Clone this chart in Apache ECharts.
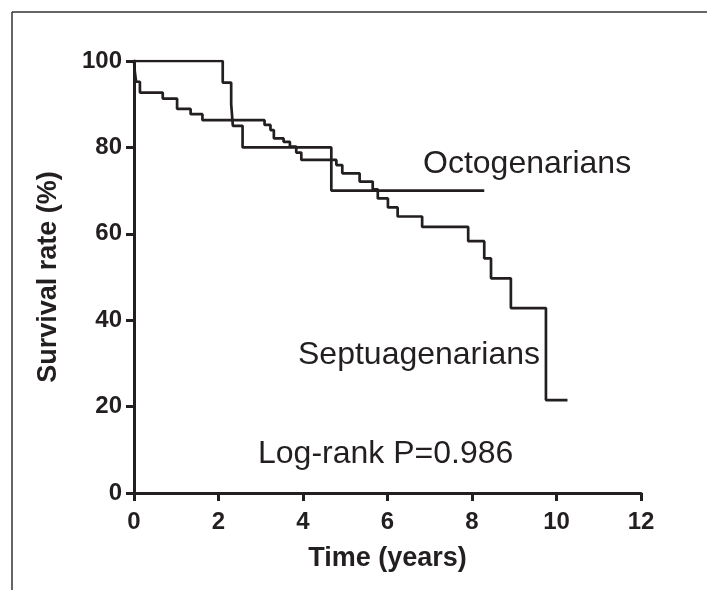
<!DOCTYPE html>
<html>
<head>
<meta charset="utf-8">
<script src="https://cdn.jsdelivr.net/npm/echarts@6/dist/echarts.min.js"></script>
<style>
  html, body { margin: 0; padding: 0; background: #fff; }
  #chart { width: 707px; height: 590px; }
</style>
</head>
<body>
<div id="chart"></div>
<script>
// Kaplan-Meier curves (time in years, survival in %)
const octoTime = [0, 2.10, 2.30, 2.34, 2.57, 4.67, 8.29]
const octoSurv = [100, 95, 90, 85, 80, 70, 70]

const septTime = [0, 0.02, 0.05, 0.14, 0.68, 1.02, 1.34, 1.62, 3.09, 3.23, 3.31, 3.54, 3.69, 3.84, 3.96,
  4.79, 4.93, 5.34, 5.65, 5.77, 6.01, 6.24, 6.82, 7.91, 8.29, 8.45, 8.92, 9.75, 10.26]
const septSurv = [100, 97.5, 95.2, 92.7, 91.3, 88.9, 87.7, 86.3, 85.2, 84.0, 82.1, 81.3, 80.2, 78.8, 77.1,
  75.9, 74.0, 72.1, 70.3, 68.2, 66.1, 64.0, 61.6, 58.3, 54.3, 49.7, 42.8, 21.5, 21.5]

const xTicks = [0, 2, 4, 6, 8, 10, 12]
const yTicks = [0, 20, 40, 60, 80, 100]

const ink = '#231f20'
const chart = echarts.init(document.getElementById('chart'))

const toPairs = (xs, ys) => xs.map((x, i) => [x, ys[i]])

const option = {
  backgroundColor: '#fff',
  animation: false,
  textStyle: { fontFamily: '"Liberation Sans", Arial, sans-serif' },
  grid: { left: 134, right: 66, top: 61, bottom: 97 },
  xAxis: {
    type: 'value',
    min: xTicks[0],
    max: xTicks[xTicks.length - 1],
    interval: 2,
    name: 'Time (years)',
    nameLocation: 'middle',
    nameGap: 52,
    nameTextStyle: { fontSize: 27, fontWeight: 'bold', color: ink },
    axisLine: { show: true, lineStyle: { color: ink, width: 3 } },
    axisTick: { show: true, length: 8, lineStyle: { color: ink, width: 3 } },
    axisLabel: { fontSize: 24, fontWeight: 'bold', color: ink, margin: 17 },
    splitLine: { show: false }
  },
  yAxis: {
    type: 'value',
    min: yTicks[0],
    max: yTicks[yTicks.length - 1],
    interval: 20,
    name: 'Survival rate (%)',
    nameLocation: 'middle',
    nameGap: 72,
    nameTextStyle: { fontSize: 27, fontWeight: 'bold', color: ink },
    axisLine: { show: true, lineStyle: { color: ink, width: 3 } },
    axisTick: { show: true, length: 8, lineStyle: { color: ink, width: 3 } },
    axisLabel: { fontSize: 24, fontWeight: 'bold', color: ink, margin: 12 },
    splitLine: { show: false }
  },
  series: [
    {
      name: 'Octogenarians',
      type: 'line',
      step: 'end',
      showSymbol: false,
      lineStyle: { color: ink, width: 2.7 },
      data: toPairs(octoTime, octoSurv)
    },
    {
      name: 'Septuagenarians',
      type: 'line',
      step: 'end',
      showSymbol: false,
      lineStyle: { color: ink, width: 2.7 },
      data: toPairs(septTime, septSurv)
    }
  ],
  graphic: [
    // frame round the figure (only top and left visible)
    { type: 'line', shape: { x1: 12, y1: 12, x2: 707, y2: 12 }, style: { stroke: '#333', lineWidth: 1.5 } },
    { type: 'line', shape: { x1: 12, y1: 12, x2: 12, y2: 590 }, style: { stroke: '#333', lineWidth: 1.5 } },
    {
      type: 'text', x: 423, y: 164,
      style: { text: 'Octogenarians', fill: ink, font: '32px "Liberation Sans", Arial', verticalAlign: 'middle' }
    },
    {
      type: 'text', x: 298, y: 355,
      style: { text: 'Septuagenarians', fill: ink, font: '32px "Liberation Sans", Arial', verticalAlign: 'middle' }
    },
    {
      type: 'text', x: 258, y: 454,
      style: { text: 'Log-rank P=0.986', fill: ink, font: '32px "Liberation Sans", Arial', verticalAlign: 'middle' }
    }
  ]
}

chart.setOption(option)
</script>
</body>
</html>
